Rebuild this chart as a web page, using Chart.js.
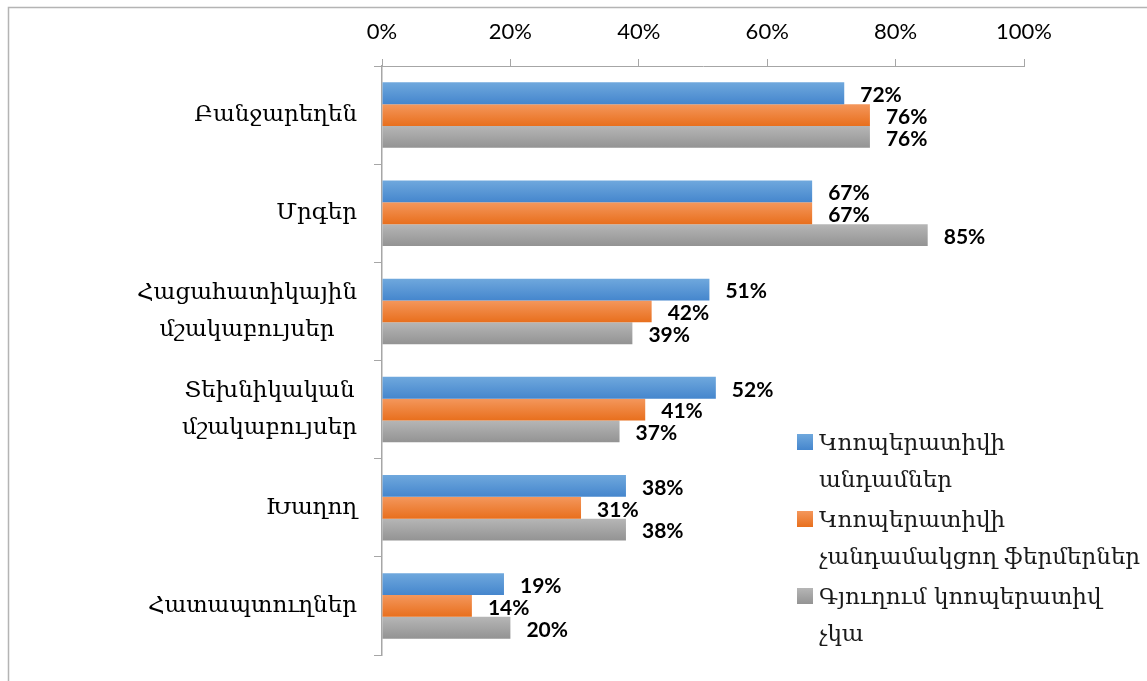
<!DOCTYPE html>
<html>
<head>
<meta charset="utf-8">
<script src="https://cdn.jsdelivr.net/npm/chart.js@4/dist/chart.umd.min.js"></script>
<style>
  html, body { margin: 0; padding: 0; background: #ffffff; }
  #wrap { position: relative; width: 1147px; height: 681px; }
  canvas { display: block; }
</style>
</head>
<body>
<div id="wrap"><canvas id="c" width="1147" height="681"></canvas></div>
<script>
const categories = [
  ["Բանջարեղեն"],
  ["Մրգեր"],
  ["Հացահատիկային", "մշակաբույսեր"],
  ["Տեխնիկական", "մշակաբույսեր"],
  ["Խաղող"],
  ["Հատապտուղներ"]
];
const seriesNames = [
  ["Կոոպերատիվի", "անդամներ"],
  ["Կոոպերատիվի", "չանդամակցող ֆերմերներ"],
  ["Գյուղում կոոպերատիվ", "չկա"]
];
const members       = [72, 67, 51, 52, 38, 19];
const nonMembers    = [76, 67, 42, 41, 31, 14];
const noCooperative = [76, 85, 39, 37, 38, 20];
const xTicks = [0, 20, 40, 60, 80, 100];

const gradStops = [
  ["#6fa8dd", "#4586cd"],
  ["#f4975c", "#e86f1d"],
  ["#b6b6b6", "#939393"]
];
const baseColors = ["#5b9bd5", "#ed7d31", "#a5a5a5"];

const armFont = '"DejaVu Serif", serif';
const numFont = 'Lato, "Liberation Sans", sans-serif';

const gradientPlugin = {
  id: 'gradBars',
  beforeDatasetsDraw(chart) {
    const ctx = chart.ctx;
    chart.data.datasets.forEach((ds, i) => {
      const meta = chart.getDatasetMeta(i);
      meta.data.forEach(el => {
        const top = el.y - el.height / 2, bot = el.y + el.height / 2;
        const g = ctx.createLinearGradient(0, top, 0, bot);
        g.addColorStop(0, gradStops[i][0]);
        g.addColorStop(1, gradStops[i][1]);
        el.options = Object.assign({}, el.options, { backgroundColor: g });
      });
    });
  }
};

const labelPlugin = {
  id: 'valueLabels',
  afterDatasetsDraw(chart) {
    const ctx = chart.ctx;
    ctx.save();
    ctx.font = 'bold 21px ' + numFont;
    ctx.fillStyle = '#000000';
    ctx.textAlign = 'left';
    ctx.textBaseline = 'middle';
    chart.data.datasets.forEach((ds, i) => {
      const meta = chart.getDatasetMeta(i);
      meta.data.forEach((el, j) => {
        ctx.fillText(ds.data[j] + '%', el.x + 16, el.y + 2);
      });
    });
    ctx.restore();
  }
};

const categoryLabelPlugin = {
  id: 'categoryLabels',
  afterDraw(chart) {
    const ctx = chart.ctx;
    const scale = chart.scales.y;
    const right = scale.right - 25;
    const lineGap = 37;
    ctx.save();
    ctx.font = '23px ' + armFont;
    ctx.fillStyle = '#000000';
    ctx.textAlign = 'center';
    ctx.textBaseline = 'middle';
    chart.data.labels.forEach((lines, i) => {
      const yc = scale.getPixelForValue(i);
      const w = Math.max(...lines.map(t => ctx.measureText(t).width));
      const xc = right - w / 2;
      const y0 = yc - (lines.length - 1) * lineGap / 2;
      lines.forEach((t, k) => ctx.fillText(t, xc, y0 + k * lineGap));
    });
    ctx.restore();
  }
};

const framePlugin = {
  id: 'frame',
  beforeDraw(chart) {
    const ctx = chart.ctx;
    ctx.save();
    ctx.strokeStyle = '#b4b4b4';
    ctx.lineWidth = 1.5;
    ctx.beginPath();
    ctx.moveTo(8.5, chart.height);
    ctx.lineTo(8.5, 7.5);
    ctx.lineTo(chart.width, 7.5);
    ctx.stroke();
    ctx.restore();
  }
};

const legendPlugin = {
  id: 'customLegend',
  afterDraw(chart) {
    const ctx = chart.ctx;
    const x0 = 797, y0 = 444, itemGap = 77, lineGap = 37;
    ctx.save();
    ctx.font = '23px ' + armFont;
    ctx.textAlign = 'left';
    ctx.textBaseline = 'middle';
    seriesNames.forEach((lines, i) => {
      const y = y0 + i * itemGap;
      const g = ctx.createLinearGradient(0, y - 10, 0, y + 6);
      g.addColorStop(0, gradStops[i][0]);
      g.addColorStop(1, gradStops[i][1]);
      ctx.fillStyle = g;
      ctx.fillRect(x0, y - 10, 16, 16);
      ctx.fillStyle = '#1a1a1a';
      lines.forEach((t, k) => ctx.fillText(t, x0 + 22, y + k * lineGap));
    });
    ctx.restore();
  }
};

new Chart(document.getElementById('c'), {
  type: 'bar',
  data: {
    labels: categories,
    datasets: [
      { label: seriesNames[0].join(' '), data: members, backgroundColor: baseColors[0] },
      { label: seriesNames[1].join(' '), data: nonMembers, backgroundColor: baseColors[1] },
      { label: seriesNames[2].join(' '), data: noCooperative, backgroundColor: baseColors[2] }
    ]
  },
  options: {
    indexAxis: 'y',
    responsive: false,
    animation: false,
    devicePixelRatio: 1,
    layout: { padding: { left: 0, top: 0, right: 123, bottom: 26 } },
    datasets: { bar: { categoryPercentage: 0.667, barPercentage: 1.0 } },
    plugins: { legend: { display: false }, tooltip: { enabled: false } },
    scales: {
      x: {
        position: 'top',
        min: 0, max: 100,
        afterBuildTicks(scale) { scale.ticks = xTicks.map(v => ({ value: v })); },
        afterFit(scale) { scale.height = 66; },
        ticks: {
          callback: v => v + '%',
          font: { family: numFont, size: 22 },
          color: '#000000',
          padding: 14,
          maxRotation: 0
        },
        grid: { drawOnChartArea: false, drawTicks: true, tickLength: 7, color: '#a6a6a6' },
        border: { display: true, color: '#a6a6a6', width: 1 }
      },
      y: {
        afterFit(scale) { scale.width = 382; },
        ticks: { display: false },
        grid: { drawOnChartArea: false, drawTicks: true, tickLength: 8, color: '#a6a6a6', offset: true },
        border: { display: true, color: '#a6a6a6', width: 1.5 }
      }
    }
  },
  plugins: [framePlugin, gradientPlugin, labelPlugin, categoryLabelPlugin, legendPlugin]
});
</script>
</body>
</html>
